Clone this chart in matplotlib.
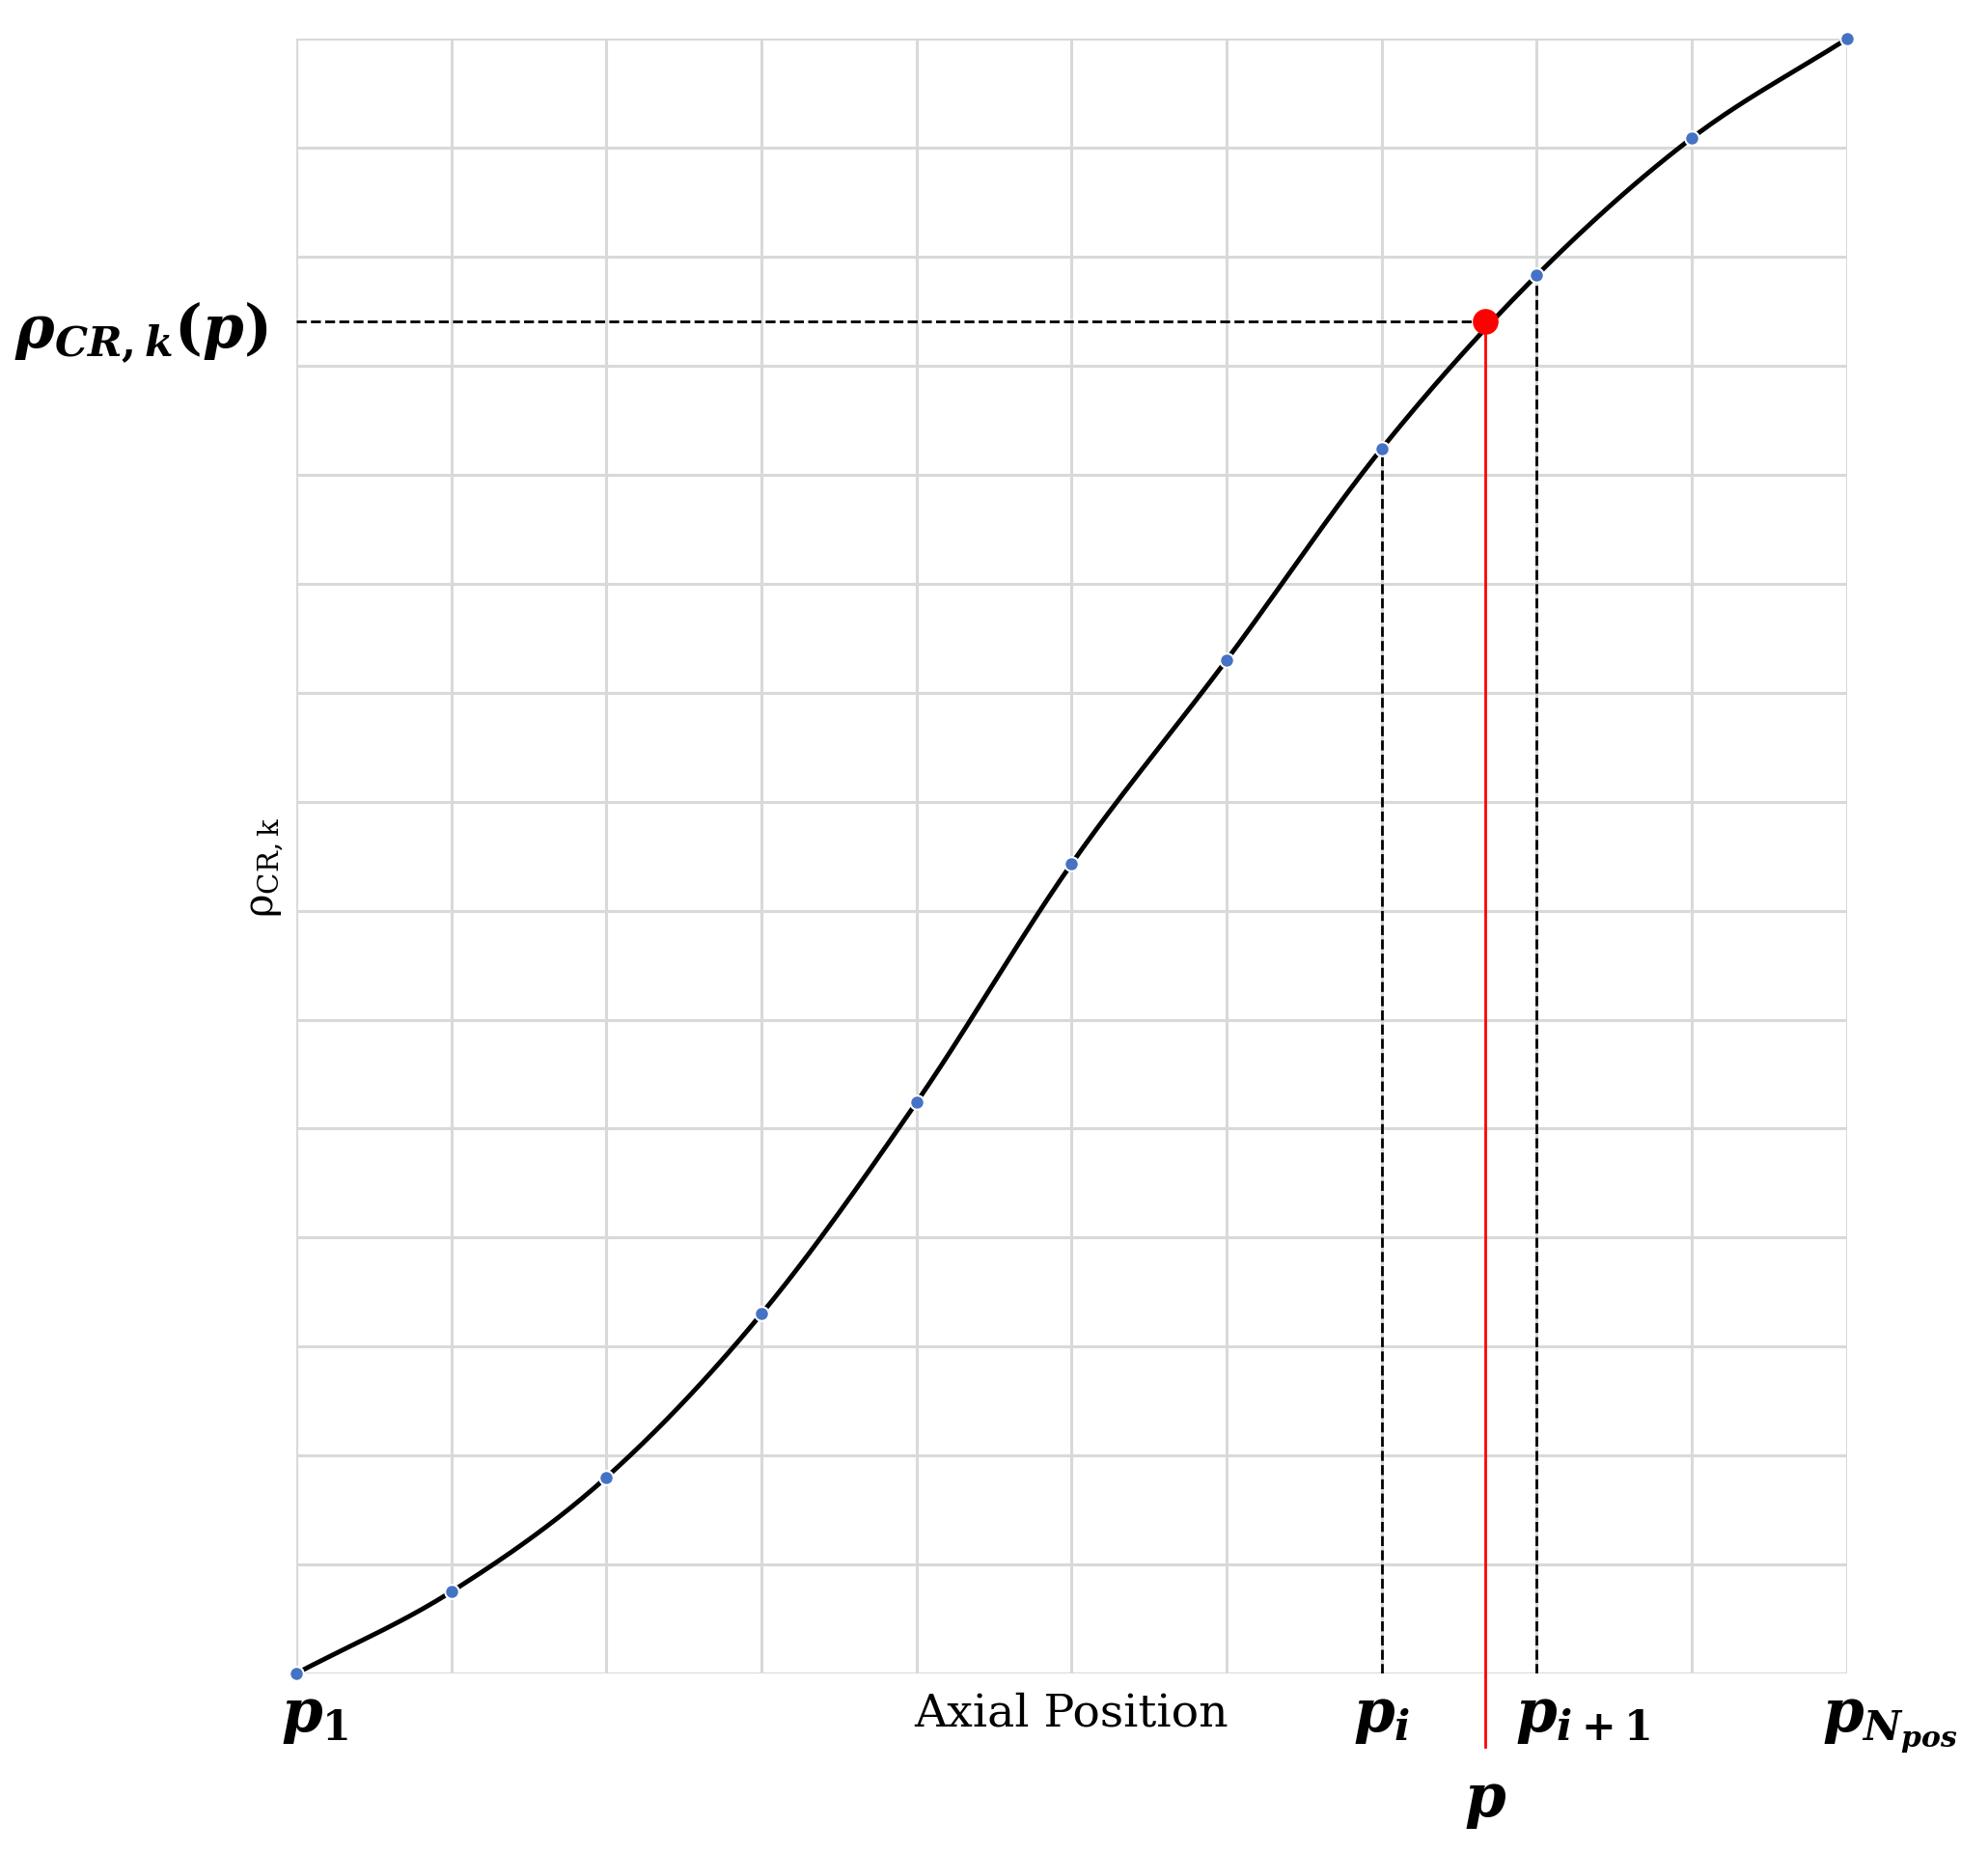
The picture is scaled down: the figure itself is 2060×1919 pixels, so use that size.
import numpy as np
import matplotlib
matplotlib.use("Agg")
import matplotlib.pyplot as plt

plt.rcParams['mathtext.fontset'] = 'custom'
plt.rcParams['mathtext.it'] = 'DejaVu Serif:italic:bold'
plt.rcParams['mathtext.rm'] = 'DejaVu Serif:bold'
plt.rcParams['mathtext.bf'] = 'DejaVu Serif:bold'

xs = [0, 1, 2, 3, 4, 5, 6, 7, 8, 9, 10]
ys = [0.0, 0.75, 1.8, 3.3, 5.24, 7.43, 9.3, 11.24, 12.83, 14.09, 15.0]
p_x = 7.67
p_y = 12.41
i_idx = 7

def catmull(x, y, n=40):
    x = np.asarray(x, float); y = np.asarray(y, float)
    px = np.concatenate([[2*x[0]-x[1]], x, [2*x[-1]-x[-2]]])
    py = np.concatenate([[2*y[0]-y[1]], y, [2*y[-1]-y[-2]]])
    ox, oy = [], []
    for k in range(1, len(px)-2):
        t = np.linspace(0, 1, n)
        for arr, out in ((px, ox), (py, oy)):
            p0, p1, p2, p3 = arr[k-1], arr[k], arr[k+1], arr[k+2]
            out.extend(0.5*((2*p1) + (-p0+p2)*t + (2*p0-5*p1+4*p2-p3)*t**2 + (-p0+3*p1-3*p2+p3)*t**3))
    return np.array(ox), np.array(oy)

fig = plt.figure(figsize=(20.6, 19.19), dpi=100)
ax = fig.add_axes([0.149, 0.0964, 0.78, 0.8826])
ax.set_xlim(0, 10); ax.set_ylim(0, 15)
ax.set_xticks(np.arange(0, 11)); ax.set_yticks(np.arange(0, 16))
ax.grid(True, color='#d9d9d9', lw=2.2)
ax.tick_params(length=0, labelbottom=False, labelleft=False)
for s in ax.spines.values():
    s.set_visible(False)
ax.set_axisbelow(True)

cx, cy = catmull(xs, ys)
ax.plot(cx, cy, color='black', lw=3.5, zorder=3)
ax.scatter(xs, ys, s=110, color='#4472c4', edgecolor='white', linewidth=1.5, zorder=4, clip_on=False)

ax.plot([0, p_x], [p_y, p_y], 'k--', lw=2, zorder=2, clip_on=False)
ax.plot([xs[i_idx], xs[i_idx]], [0, ys[i_idx]], 'k--', lw=2, zorder=2)
ax.plot([xs[i_idx+1], xs[i_idx+1]], [0, ys[i_idx+1]], 'k--', lw=2, zorder=2)
ax.plot([p_x, p_x], [-0.67, p_y], color='red', lw=2, zorder=2, clip_on=False)
ax.scatter([p_x], [p_y], s=330, color='red', zorder=5)

kw = dict(fontsize=44, ha='center', va='center')
ax.text(0.12, -0.4, r'$p_1$', **kw)
ax.text(7.0, -0.4, r'$p_i$', **kw)
ax.text(8.3, -0.4, r'$p_{i+1}$', **kw)
ax.text(10.28, -0.48, r'$p_{N_{pos}}$', **kw)
ax.text(p_x, -1.18, r'$p$', **kw)
ax.text(-1.0, 12.3, r'$\rho_{CR,k}(p)$', fontsize=44, ha='center', va='center', clip_on=False)
ax.text(5.0, -0.37, 'Axial Position', fontsize=34, ha='center', va='center', family='DejaVu Serif')
ax.text(-0.19, 7.4, r'ρ$_{\mathregular{CR,k}}$', fontsize=30, ha='center', va='center',
        rotation=90, family='DejaVu Serif')

fig.savefig('out.png', dpi=100)
